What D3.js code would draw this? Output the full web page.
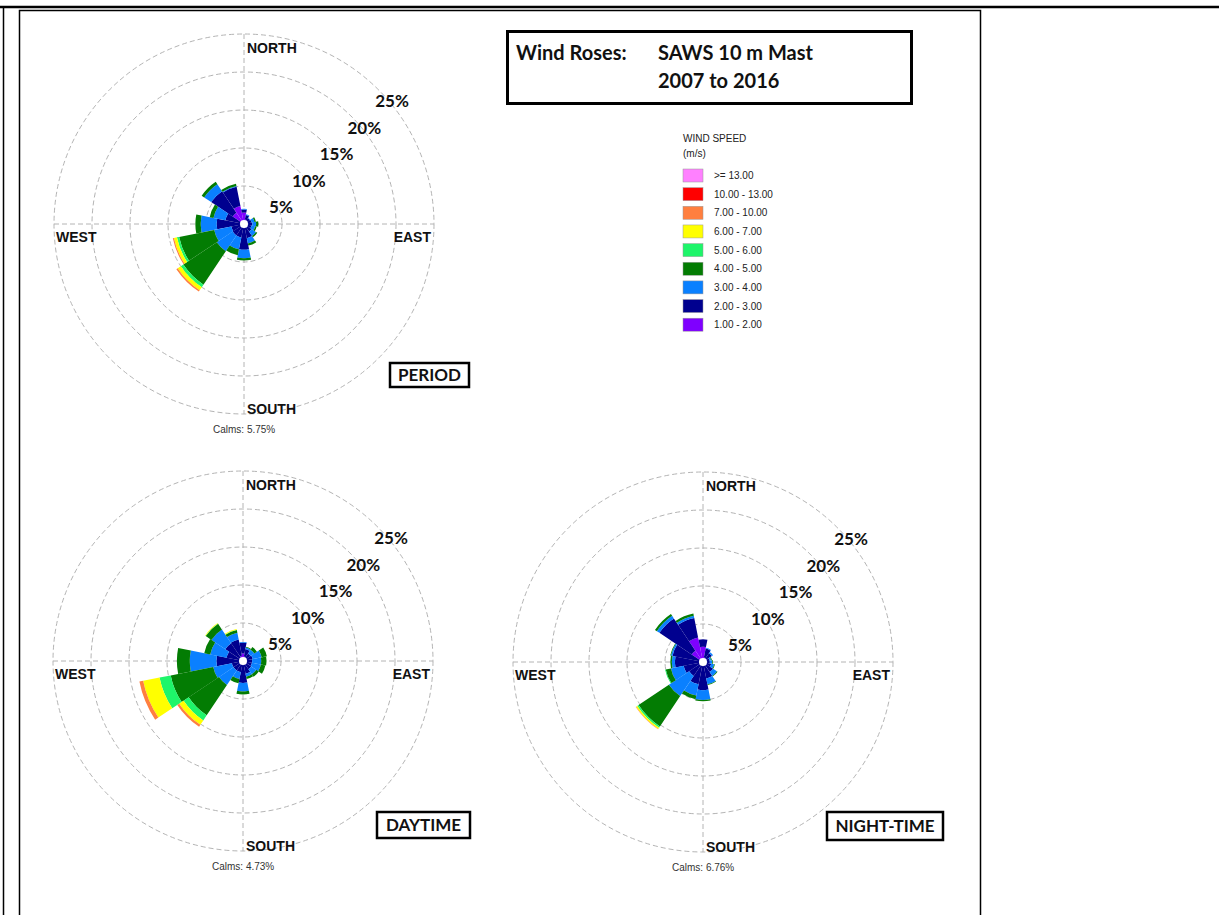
<!DOCTYPE html>
<html><head><meta charset="utf-8">
<script src="https://cdn.jsdelivr.net/npm/d3@7"></script>
<style>body{margin:0;background:#fff}</style>
</head><body><svg id="c" width="1219" height="915"></svg>
<script>
// ---------- data ----------
const directions = ["N","NNE","NE","ENE","E","ESE","SE","SSE","S","SSW","SW","WSW","W","WNW","NW","NNW"];
const speedClasses = ["1.00 - 2.00","2.00 - 3.00","3.00 - 4.00","4.00 - 5.00","5.00 - 6.00","6.00 - 7.00","7.00 - 10.00","10.00 - 13.00",">= 13.00"];
const classColors = ["#7f00ff","#00008f","#0a80ff","#037c03","#1ef56a","#ffff00","#ff7f3f","#ff0000","#ff80ff"];
const percentTicks = [5,10,15,20,25];
const percentLabels = ["5%","10%","15%","20%","25%"];

// PERIOD (% frequency per direction, by speed class)
const period_1_2   = [1.5,0.6,0.4,0.4,0.4,0.4,0.4,0.4,0.5,0.4,0.4,0.4,0.3,0.5,1.8,2.4];
const period_2_3   = [0.4,0.6,0.5,0.6,0.7,0.6,0.8,1.5,2.9,1.4,1.4,1.3,3.3,2.0,3.4,2.6];
const period_3_4   = [0.1,0.1,0.1,0.4,0.5,0.5,0.7,0.7,1.1,1.6,2.5,2.3,2.1,1.6,1.1,0.1];
const period_4_5   = [0,0,0,0.2,0.3,0.2,0.2,0.3,0.3,0.8,5.3,4.7,0.7,0.5,0.4,0.3];
const period_5_6   = [0,0,0,0,0,0,0,0,0,0,0.4,0.3,0,0,0,0];
const period_6_7   = [0,0,0,0,0,0,0,0,0,0,0.5,0.4,0,0,0,0];
const period_7_10  = [0,0,0,0,0,0,0,0,0,0,0.2,0.15,0,0,0,0];
const period_10_13 = [0,0,0,0,0,0,0,0,0,0,0,0,0,0,0,0];
const period_13    = [0,0,0,0,0,0,0,0,0,0,0,0,0,0,0,0];
const periodCalms = "5.75%";

// DAYTIME
const day_1_2   = [1.0,0.6,0.4,0.4,0.3,0.3,0.3,0.3,0.3,0.3,0.3,0.3,0.3,0.3,0.4,0.7];
const day_2_3   = [1.4,1.0,0.8,0.9,0.9,0.9,1.0,1.4,2.6,1.2,1.2,1.2,3.2,1.9,2.4,2.2];
const day_3_4   = [0.1,0.2,0.6,1.2,1.2,1.2,0.8,0.4,1.1,0.9,2.3,2.5,3.5,2.2,2.2,0.9];
const day_4_5   = [0,0.1,0.4,0.7,0.7,0.6,0.4,0.3,0.4,0.6,4.8,5.7,1.7,0.8,0.9,0.35];
const day_5_6   = [0,0,0,0,0,0,0,0,0,0,0.8,1.5,0,0,0.05,0.05];
const day_6_7   = [0,0,0,0,0,0,0,0,0,0,0.7,2.2,0,0,0.05,0.1];
const day_7_10  = [0,0,0,0,0,0,0,0,0,0,0.3,0.5,0,0,0,0];
const day_10_13 = [0,0,0,0,0,0,0,0,0,0,0,0,0,0,0,0];
const day_13    = [0,0,0,0,0,0,0,0,0,0,0,0,0,0,0,0];
const dayCalms = "4.73%";

// NIGHT-TIME
const night_1_2   = [2.0,0.6,0.4,0.3,0.3,0.3,0.3,0.3,0.3,0.3,0.3,0.3,0.3,0.5,1.8,3.3];
const night_2_3   = [1.0,1.2,1.0,0.6,0.6,0.8,1.3,1.9,3.4,2.7,1.9,2.3,3.4,3.6,5.1,2.6];
const night_3_4   = [0,0.1,0.2,0.2,0.3,0.4,0.6,0.8,1.3,1.5,3.2,1.7,0.4,0.2,0.4,0.3];
const night_4_5   = [0,0,0,0.1,0.1,0.1,0.1,0.1,0.15,0.5,4.8,0.7,0.2,0.1,0.3,0.3];
const night_5_6   = [0,0,0,0,0,0,0,0,0,0,0.2,0.1,0,0,0,0];
const night_6_7   = [0,0,0,0,0,0,0,0,0,0,0.2,0,0,0,0,0];
const night_7_10  = [0,0,0,0,0,0,0,0,0,0,0.05,0,0,0,0,0];
const night_10_13 = [0,0,0,0,0,0,0,0,0,0,0,0,0,0,0,0];
const night_13    = [0,0,0,0,0,0,0,0,0,0,0,0,0,0,0,0];
const nightCalms = "6.76%";

// ---------- drawing ----------
const svg = d3.select("#c");
svg.append("rect").attr("width",1219).attr("height",915).attr("fill","#fff");

// page borders
svg.append("line").attr("x1",0).attr("x2",1219).attr("y1",7).attr("y2",7).attr("stroke","#000").attr("stroke-width",2.5);
svg.append("line").attr("x1",3.5).attr("x2",3.5).attr("y1",6).attr("y2",915).attr("stroke","#000").attr("stroke-width",1.5);
svg.append("rect").attr("x",19.5).attr("y",10.5).attr("width",961).attr("height",930)
  .attr("fill","none").attr("stroke","#000").attr("stroke-width",1.5);

const R = 190;
const rScale = d3.scaleLinear().domain([0,25]).range([0,R]);
const angle = d3.scaleBand().domain(directions).range([-Math.PI/16, 2*Math.PI - Math.PI/16]).padding(0);
const arcGen = d3.arc();

function rose(cx, cy, classArrays, calms, name, box) {
  const g = svg.append("g").attr("transform", `translate(${cx},${cy})`);
  // grid
  percentTicks.forEach(t => g.append("circle").attr("r", rScale(t)).attr("fill","none")
    .attr("stroke","#b4b4b4").attr("stroke-width",1).attr("stroke-dasharray","5,3"));
  g.append("line").attr("x1",0).attr("x2",0).attr("y1",-R).attr("y2",R)
    .attr("stroke","#b4b4b4").attr("stroke-dasharray","5,3");
  g.append("line").attr("x1",-R).attr("x2",R).attr("y1",0).attr("y2",0)
    .attr("stroke","#b4b4b4").attr("stroke-dasharray","5,3");

  // petals
  const keys = speedClasses.map((_, i) => i);
  const rows = directions.map((d, i) => {
    const o = {dir: d};
    classArrays.forEach((arr, k) => { o[k] = arr[i]; });
    return o;
  });
  const stacked = d3.stack().keys(keys)(rows);
  stacked.forEach((s, k) => {
    g.append("g").selectAll("path")
      .data(s.filter(d => d[1] > d[0]))
      .enter().append("path")
      .attr("d", d => arcGen({innerRadius: rScale(d[0]), outerRadius: rScale(d[1]),
          startAngle: angle(d.data.dir), endAngle: angle(d.data.dir) + angle.bandwidth()}))
      .attr("fill", classColors[k]);
  });
  g.append("circle").attr("r", 4).attr("fill", "#fff");

  // percent labels
  percentTicks.forEach((t, i) => {
    g.append("text").attr("x", 37 + (t - 5) * 5.55).attr("y", -17 - (t - 5) * 5.3 + 6)
      .attr("text-anchor","middle").attr("font-family","Lato, 'Open Sans', sans-serif")
      .attr("font-weight","bold").attr("font-size",17).attr("fill","#111").text(percentLabels[i]);
  });

  // compass labels
  const cf = (sel) => sel.attr("font-family","'Liberation Sans', Arial, sans-serif")
    .attr("font-weight","bold").attr("font-size",14).attr("fill","#111");
  cf(g.append("text").attr("x", 3).attr("y", -R + 19).text("NORTH"));
  cf(g.append("text").attr("x", 3).attr("y", R).text("SOUTH"));
  cf(g.append("text").attr("x", -R + 2).attr("y", 18).text("WEST"));
  cf(g.append("text").attr("x", R - 3).attr("y", 18).attr("text-anchor","end").text("EAST"));

  // calms
  g.append("text").attr("x", -31).attr("y", R + 19)
    .attr("font-family","'Liberation Sans', Arial, sans-serif").attr("font-size",10)
    .attr("fill","#333").text("Calms: " + calms);

  // name box
  svg.append("rect").attr("x", box[0]).attr("y", box[1]).attr("width", box[2]).attr("height", box[3])
    .attr("fill","#fff").attr("stroke","#000").attr("stroke-width",2.5);
  svg.append("text").attr("x", box[0] + box[2]/2).attr("y", box[1] + box[3]/2 + 6)
    .attr("text-anchor","middle").attr("font-family","Lato, 'Open Sans', sans-serif")
    .attr("font-weight","bold").attr("font-size",17).attr("fill","#111").text(name);
}

rose(244, 224, [period_1_2,period_2_3,period_3_4,period_4_5,period_5_6,period_6_7,period_7_10,period_10_13,period_13],
     periodCalms, "PERIOD", [390, 363, 79, 24]);
rose(243, 661, [day_1_2,day_2_3,day_3_4,day_4_5,day_5_6,day_6_7,day_7_10,day_10_13,day_13],
     dayCalms, "DAYTIME", [377, 812, 93, 26]);
rose(703, 662, [night_1_2,night_2_3,night_3_4,night_4_5,night_5_6,night_6_7,night_7_10,night_10_13,night_13],
     nightCalms, "NIGHT-TIME", [827, 812, 116, 28]);

// title box
svg.append("rect").attr("x",507.5).attr("y",31.5).attr("width",404).attr("height",72)
  .attr("fill","#fff").attr("stroke","#000").attr("stroke-width",3);
const tf = (sel) => sel.attr("font-family","Lato, 'Open Sans', sans-serif").attr("font-weight","bold")
  .attr("font-size",20).attr("fill","#111");
tf(svg.append("text").attr("x",516).attr("y",60).text("Wind Roses:"));
tf(svg.append("text").attr("x",658).attr("y",60).text("SAWS 10 m Mast"));
tf(svg.append("text").attr("x",658).attr("y",88).text("2007 to 2016"));

// legend
const lf = (sel) => sel.attr("font-family","'Liberation Sans', Arial, sans-serif").attr("font-size",10).attr("fill","#222");
lf(svg.append("text").attr("x",683).attr("y",142).text("WIND SPEED"));
lf(svg.append("text").attr("x",683).attr("y",157).text("(m/s)"));
const legendOrder = speedClasses.map((s, i) => i).reverse();
const ly = d3.scaleBand().domain(legendOrder).range([169, 169 + 18.65 * legendOrder.length]);
legendOrder.forEach(k => {
  svg.append("rect").attr("x",683).attr("y",ly(k)).attr("width",20).attr("height",13)
    .attr("fill",classColors[k]).attr("stroke","#999").attr("stroke-width",0.5);
  lf(svg.append("text").attr("x",714).attr("y",ly(k) + 10).text(speedClasses[k]));
});
</script></body></html>
